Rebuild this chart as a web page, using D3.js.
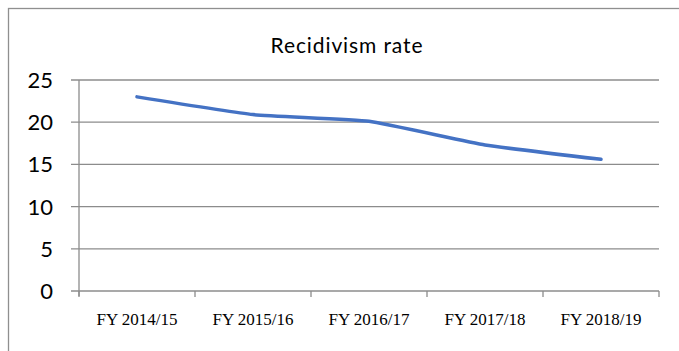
<!DOCTYPE html>
<html>
<head>
<meta charset="utf-8">
<script src="https://cdn.jsdelivr.net/npm/d3@7"></script>
<style>
  html, body { margin: 0; padding: 0; background: #fff; }
  svg { display: block; }
</style>
</head>
<body>
<svg id="chart" width="679" height="351"></svg>
<script>
// Recidivism rate by fiscal year
const categories = ["FY 2014/15", "FY 2015/16", "FY 2016/17", "FY 2017/18", "FY 2018/19"];
const rates = [23.0, 20.9, 20.1, 17.3, 15.6];
const yTicks = [0, 5, 10, 15, 20, 25];
const chartTitle = "Recidivism rate";

const svg = d3.select("#chart");
const gridColor = "#8c8c8c";

// chart frame (extends beyond the visible window on the right and bottom)
svg.append("rect")
  .attr("x", 8.5).attr("y", 8.5)
  .attr("width", 720).attr("height", 400)
  .attr("fill", "none")
  .attr("stroke", "#8f8f8f")
  .attr("stroke-width", 1.3);

const plot = { left: 79, right: 659, top: 80, bottom: 291 };

const x = d3.scaleBand().domain(categories).range([plot.left, plot.right]);
const y = d3.scaleLinear().domain([0, 25]).range([plot.bottom, plot.top]);

// horizontal gridlines
svg.append("g")
  .selectAll("line")
  .data(yTicks)
  .join("line")
  .attr("x1", plot.left - 8).attr("x2", plot.right)
  .attr("y1", d => y(d)).attr("y2", d => y(d))
  .attr("stroke", gridColor)
  .attr("stroke-width", 1.3);

// y axis line
svg.append("line")
  .attr("x1", plot.left).attr("x2", plot.left)
  .attr("y1", plot.top).attr("y2", plot.bottom + 5)
  .attr("stroke", gridColor)
  .attr("stroke-width", 1.3);

// x axis category boundary ticks
const boundaries = categories.map(c => x(c)).concat([plot.right]);
svg.append("g")
  .selectAll("line")
  .data(boundaries)
  .join("line")
  .attr("x1", d => d).attr("x2", d => d)
  .attr("y1", plot.bottom).attr("y2", plot.bottom + 6)
  .attr("stroke", gridColor)
  .attr("stroke-width", 1.3);

// y tick labels
svg.append("g")
  .selectAll("text")
  .data(yTicks)
  .join("text")
  .attr("x", 53)
  .attr("y", d => y(d))
  .attr("dy", "0.36em")
  .attr("text-anchor", "end")
  .attr("font-family", "Lato, 'Open Sans', sans-serif")
  .attr("font-size", 22)
  .attr("fill", "#000")
  .text(d => d);

// x tick labels
svg.append("g")
  .selectAll("text")
  .data(categories)
  .join("text")
  .attr("x", d => x(d) + x.bandwidth() / 2)
  .attr("y", 325)
  .attr("text-anchor", "middle")
  .attr("font-family", "'Liberation Serif', 'Times New Roman', serif")
  .attr("font-size", 17)
  .attr("fill", "#000")
  .text(d => d);

// title
svg.append("text")
  .attr("x", 347)
  .attr("y", 53)
  .attr("text-anchor", "middle")
  .attr("font-family", "Lato, 'Open Sans', sans-serif")
  .attr("font-size", 21)
  .attr("letter-spacing", 0.9)
  .attr("fill", "#000")
  .text(chartTitle);

// series line, lightly smoothed
const line = d3.line()
  .x((d, i) => x(categories[i]) + x.bandwidth() / 2)
  .y(d => y(d))
  .curve(d3.curveCardinal.tension(0.6));

svg.append("path")
  .datum(rates)
  .attr("d", line)
  .attr("fill", "none")
  .attr("stroke", "#4472C4")
  .attr("stroke-width", 3.5)
  .attr("stroke-linecap", "round")
  .attr("stroke-linejoin", "round");
</script>
</body>
</html>
